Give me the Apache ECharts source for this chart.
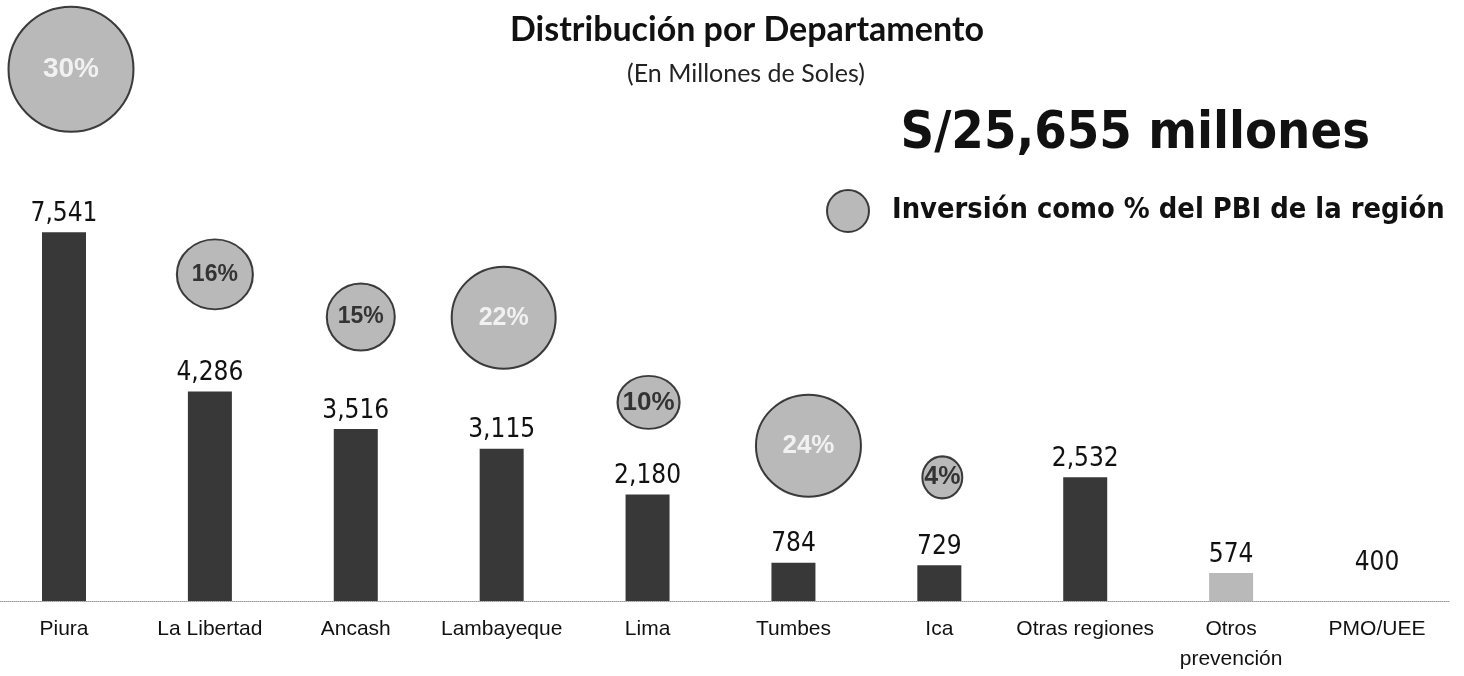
<!DOCTYPE html>
<html>
<head>
<meta charset="utf-8">
<script src="https://cdn.jsdelivr.net/npm/echarts@6/dist/echarts.min.js"></script>
<style>
  html, body { margin: 0; padding: 0; background: #fff; }
  #main { width: 1464px; height: 676px; }
</style>
</head>
<body>
<div id="main"></div>
<script>
// datos
const categories = ["Piura", "La Libertad", "Ancash", "Lambayeque", "Lima", "Tumbes", "Ica", "Otras regiones", "Otros\nprevención", "PMO/UEE"];
const inversion = [7541, 4286, 3516, 3115, 2180, 784, 729, 2532, 574, 400];
const pbiPct = [30, 16, 15, 22, 10, 24, 4];
const totalText = "S/25,655 millones";
const legendText = "Inversión como % del PBI de la región";

// layout de las burbujas (px)
const bubbleSize = [[125, 125], [76, 70], [68, 67], [104, 102], [62, 53], [105, 102], [40, 42]];
const bubbleOffset = [[7, -163], [5, -117], [5, -112], [2, -131], [1, -92], [15, -117], [3, -88]];
const bubbleFont = [28, 23, 23, 25, 26, 26, 25];
const barColor = (i) => (i === 8 ? "#b9b9b9" : i === 9 ? "#ffffff" : "#383838");

const narrow = "'Liberation Sans Narrow', 'Arial Narrow', 'DejaVu Sans Condensed', sans-serif";
const tahoma = "'DejaVu Sans Condensed', 'DejaVu Sans', sans-serif";
const arial = "'Liberation Sans', Arial, sans-serif";

const chart = echarts.init(document.getElementById("main"));

const option = {
  backgroundColor: "#fff",
  animation: false,
  title: [
    {
      text: "Distribución por Departamento",
      left: 742, top: 8, textAlign: "center",
      textStyle: { fontFamily: "Lato", fontWeight: "bold", fontSize: 34, color: "#111" }
    },
    {
      text: "(En Millones de Soles)",
      left: 741, top: 56, textAlign: "center",
      textStyle: { fontFamily: "Lato", fontWeight: "normal", fontSize: 25, color: "#222" }
    },
    {
      text: totalText,
      left: 1365, top: 103, textAlign: "right",
      textStyle: { fontFamily: tahoma, fontWeight: "bold", fontSize: 52, color: "#111" }
    }
  ],
  legend: {
    data: [legendText],
    left: 821, top: 184,
    itemWidth: 42, itemHeight: 42, itemGap: 10,
    icon: "circle",
    textStyle: { fontFamily: tahoma, fontWeight: "bold", fontSize: 28.8, color: "#111", padding: [0, 0, 0, 18] }
  },
  grid: [
    { left: 64, width: 1313, top: 112, height: 489 },
    { left: 0, width: 1450, top: 112, height: 489 }
  ],
  xAxis: [
    {
      type: "category",
      data: categories,
      boundaryGap: false,
      axisTick: { show: false },
      axisLine: { show: false },
      splitLine: { show: false },
      axisLabel: { interval: 0, margin: 13, fontFamily: arial, fontSize: 21, lineHeight: 30, color: "#111" }
    },
    {
      type: "value", gridIndex: 1, min: 0, max: 1,
      axisLine: { show: true, lineStyle: { color: "#999", type: "dotted", width: 1 } },
      axisTick: { show: false }, axisLabel: { show: false }, splitLine: { show: false }
    }
  ],
  yAxis: [
    { type: "value", min: 0, max: 10000, show: false, splitLine: { show: false } },
    { type: "value", gridIndex: 1, show: false, splitLine: { show: false } }
  ],
  series: [
    {
      type: "bar",
      barWidth: 44,
      clip: false,
      data: inversion.map((v, i) => ({ value: v, itemStyle: { color: barColor(i) } })),
      label: {
        show: true, position: "top", distance: 5,
        formatter: (p) => p.value.toLocaleString("en-US"),
        fontFamily: narrow, fontSize: 26, color: "#111"
      }
    },
    {
      type: "scatter",
      name: legendText,
      clip: false,
      z: 5,
      itemStyle: { color: "#a8a8a8", borderColor: "#111", borderWidth: 2 },
      data: pbiPct.map((p, i) => ({
        value: [i, inversion[i]],
        symbolSize: bubbleSize[i],
        symbolOffset: bubbleOffset[i],
        label: {
          show: true, position: "inside",
          formatter: p + "%",
          fontFamily: arial,
          fontWeight: "bold",
          fontSize: bubbleFont[i],
          color: bubbleSize[i][0] > 100 ? "#fff" : "#111"
        }
      }))
    }
  ]
};

chart.setOption(option);
</script>
</body>
</html>
